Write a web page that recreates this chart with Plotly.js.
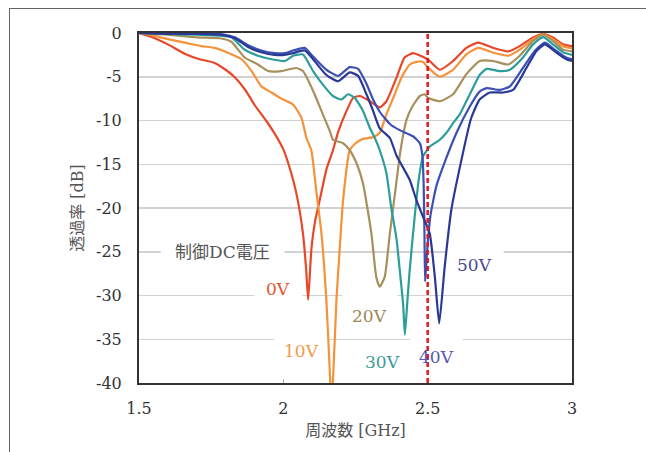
<!DOCTYPE html>
<html>
<head>
<meta charset="utf-8">
<script src="https://cdn.plot.ly/plotly-3.0.1.min.js"></script>
<style>
  html, body { margin: 0; padding: 0; background: #fff; }
  #wrap { position: relative; width: 646px; height: 452px; }
  #chart { width: 646px; height: 452px; }
  #frame { position: absolute; left: 9px; top: 8px; right: 0; bottom: 0;
           border-left: 1px solid #666; border-top: 1px solid #666; pointer-events: none; }
</style>
</head>
<body>
<div id="wrap">
  <div id="chart"></div>
  <div id="frame"></div>
</div>
<script>
// ---- data ----
const seriesNames = ['0V', '10V', '20V', '30V', '40V', '50V'];

const freq0V = [1.50,1.54,1.60,1.66,1.71,1.76,1.80,1.83,1.87,1.90,1.94,1.97,2.00,2.02,2.045,2.068,2.079,2.086,2.097,2.11,2.126,2.15,2.172,2.19,2.219,2.242,2.265,2.30,2.334,2.357,2.392,2.42,2.449,2.475,2.50,2.542,2.588,2.634,2.675,2.727,2.779,2.819,2.865,2.90,2.934,2.969,3.00];
const db0V   = [0,-0.4,-1.3,-2.4,-3.0,-3.4,-4.2,-5.0,-6.6,-8.2,-10.0,-11.5,-13.3,-15.2,-18.3,-22.9,-27.0,-30.5,-24.8,-21.5,-19.1,-15.5,-13.4,-11.3,-8.9,-7.4,-7.2,-7.8,-8.5,-7.8,-5.1,-2.8,-2.3,-2.6,-3.0,-4.2,-3.2,-1.7,-1.1,-1.7,-2.1,-1.5,-0.5,-0.1,-0.5,-1.3,-1.5];

const freq10V = [1.50,1.55,1.60,1.658,1.716,1.762,1.808,1.855,1.89,1.924,1.959,1.993,2.034,2.063,2.08,2.097,2.115,2.132,2.149,2.16,2.166,2.172,2.184,2.195,2.207,2.23,2.25,2.276,2.311,2.334,2.357,2.386,2.409,2.438,2.461,2.484,2.50,2.542,2.588,2.634,2.675,2.727,2.779,2.819,2.865,2.90,2.934,2.969,3.00];
const db10V   = [0,-0.3,-0.7,-1.1,-1.5,-1.7,-2.25,-3.0,-4.35,-6.1,-6.8,-7.5,-8.2,-9.7,-12.0,-13.4,-18.3,-22.9,-30.5,-38.0,-42.0,-39.7,-30.5,-24.8,-19.1,-13.4,-12.6,-12.1,-11.9,-11.4,-9.3,-7.0,-5.1,-3.6,-3.3,-3.3,-3.9,-5.0,-4.2,-2.45,-1.7,-2.25,-2.6,-1.9,-0.7,-0.15,-0.7,-1.5,-1.75];

const freq20V = [1.50,1.60,1.70,1.78,1.82,1.866,1.912,1.947,1.993,2.045,2.068,2.103,2.137,2.161,2.172,2.207,2.23,2.255,2.276,2.305,2.322,2.334,2.351,2.369,2.39,2.406,2.427,2.447,2.473,2.49,2.50,2.542,2.588,2.634,2.68,2.727,2.779,2.819,2.865,2.90,2.934,2.969,3.00];
const db20V   = [0,-0.2,-0.5,-0.6,-1.0,-2.8,-3.6,-4.35,-4.35,-4.0,-4.35,-6.6,-9.3,-11.2,-12.2,-12.6,-13.4,-15.0,-17.2,-22.9,-27.9,-29.0,-27.9,-22.9,-17.5,-13.4,-9.9,-8.4,-7.2,-7.0,-7.4,-7.8,-7.0,-4.7,-3.2,-3.2,-3.6,-2.6,-0.9,-0.2,-0.9,-1.9,-2.1];

const freq30V = [1.50,1.60,1.70,1.78,1.82,1.866,1.912,1.959,2.005,2.034,2.068,2.103,2.137,2.172,2.201,2.224,2.247,2.276,2.299,2.317,2.334,2.357,2.374,2.392,2.403,2.415,2.421,2.43,2.438,2.455,2.47,2.484,2.507,2.542,2.565,2.588,2.611,2.634,2.658,2.68,2.704,2.75,2.785,2.83,2.865,2.90,2.934,2.969,3.00];
const db30V   = [0,-0.1,-0.2,-0.3,-0.5,-1.9,-2.6,-3.0,-3.2,-2.6,-2.45,-4.35,-5.9,-7.2,-7.6,-7.0,-7.4,-8.9,-10.8,-12.0,-13.4,-16.0,-20.0,-23.5,-27.0,-31.0,-34.5,-30.5,-27.0,-21.0,-16.5,-14.1,-13.0,-12.2,-11.4,-10.3,-9.3,-7.8,-6.2,-4.8,-4.1,-4.35,-4.2,-2.8,-1.3,-0.46,-1.3,-2.2,-2.5];

const freq40V = [1.50,1.60,1.70,1.78,1.832,1.878,1.924,1.97,2.005,2.034,2.074,2.103,2.149,2.19,2.23,2.259,2.288,2.311,2.334,2.369,2.403,2.449,2.473,2.482,2.486,2.489,2.491,2.498,2.509,2.53,2.553,2.60,2.646,2.68,2.704,2.75,2.785,2.83,2.871,2.906,2.94,2.98,3.00];
const db40V   = [0,-0.1,-0.1,-0.1,-0.5,-1.4,-2.0,-2.3,-2.3,-2.0,-1.7,-2.7,-4.2,-4.9,-3.9,-4.1,-5.8,-7.6,-9.0,-10.4,-11.1,-11.8,-12.6,-14.1,-17.2,-23.0,-28.4,-25.0,-21.0,-17.5,-15.3,-11.4,-8.4,-6.7,-6.3,-6.5,-6.1,-4.0,-2.06,-1.1,-1.9,-2.8,-3.0];

const freq50V = [1.50,1.60,1.70,1.78,1.832,1.878,1.924,1.97,2.005,2.034,2.074,2.103,2.149,2.19,2.23,2.259,2.288,2.311,2.334,2.369,2.392,2.438,2.461,2.484,2.507,2.525,2.54,2.559,2.582,2.617,2.65,2.68,2.715,2.761,2.796,2.842,2.877,2.906,2.946,2.98,3.00];
const db50V   = [0,-0.1,-0.1,-0.2,-0.6,-1.6,-2.2,-2.5,-2.5,-2.3,-2.0,-3.0,-4.8,-5.5,-4.5,-4.9,-7.0,-8.9,-10.9,-12.0,-14.0,-16.8,-19.1,-21.0,-22.9,-27.9,-33.2,-26.7,-20.2,-14.5,-9.8,-7.6,-6.8,-6.8,-6.5,-4.0,-2.06,-1.3,-2.25,-3.0,-3.2];

const freqs = [freq0V, freq10V, freq20V, freq30V, freq40V, freq50V];
const dbs   = [db0V, db10V, db20V, db30V, db40V, db50V];

const xTickVals = [1.5, 2, 2.5, 3];
const xTickText = ['1.5', '2', '2.5', '3'];
const yTickVals = [0, -5, -10, -15, -20, -25, -30, -35, -40];
const yTickText = ['0', '-5', '-10', '-15', '-20', '-25', '-30', '-35', '-40'];
const markerFreq = 2.5;

// ---- styles ----
const lineColors  = ['#e8472a', '#f5923a', '#a8905c', '#2b9e9a', '#3b50b2', '#2a3896'];
const labelColors = ['#e4542f', '#f29a4a', '#9c8757', '#3a9c98', '#5858b4', '#4a4a94'];

const traces = seriesNames.map((name, i) => ({
  type: 'scatter', mode: 'lines', name: name,
  x: freqs[i], y: dbs[i],
  line: { color: lineColors[i], width: 2.2, shape: 'spline', smoothing: 0.5 },
  hoverinfo: 'skip'
}));

// label placement (data coordinates) and white boxes that only hide the grid
const labelPos = [
  { x: 1.982, y: -29.2, w: 48, h: 30 },
  { x: 2.063, y: -36.3, w: 55, h: 30 },
  { x: 2.300, y: -32.3, w: 55, h: 42 },
  { x: 2.345, y: -37.6, w: 0,  h: 0 },
  { x: 2.530, y: -37.0, w: 53, h: 40 },
  { x: 2.663, y: -26.5, w: 58, h: 32 }
];
const titleLabel = { text: '制御DC電圧', x: 1.79, y: -25, w: 124, h: 30 };

const annotations = seriesNames.map((name, i) => ({
  x: labelPos[i].x, y: labelPos[i].y, xref: 'x', yref: 'y',
  text: name, showarrow: false,
  font: { family: 'DejaVu Serif, Liberation Serif, serif', size: 17, color: labelColors[i] }
}));
annotations.push({
  x: titleLabel.x, y: titleLabel.y, xref: 'x', yref: 'y', text: titleLabel.text, showarrow: false,
  font: { family: 'DejaVu Serif, Noto Sans CJK JP, serif', size: 17, color: '#555' }
});

const shapes = [];
labelPos.concat([titleLabel]).forEach(p => {
  if (!p.w) return;
  shapes.push({
    type: 'rect', layer: 'between', xref: 'x', yref: 'y',
    xsizemode: 'pixel', ysizemode: 'pixel',
    xanchor: p.x, yanchor: p.y,
    x0: -p.w / 2, x1: p.w / 2, y0: -p.h / 2, y1: p.h / 2,
    fillcolor: '#ffffff', line: { width: 0 }
  });
});
shapes.push({
  type: 'line', layer: 'above', xref: 'x', yref: 'paper',
  x0: markerFreq, x1: markerFreq, y0: 0, y1: 1,
  line: { color: '#e3161d', width: 2.5, dash: '5px,3px' }
});

const tickFont = { family: 'DejaVu Serif, Liberation Serif, serif', size: 16, color: '#333' };
const titleFont = { family: 'DejaVu Serif, Noto Sans CJK JP, serif', size: 16, color: '#555' };

const layout = {
  width: 646, height: 452,
  margin: { l: 139, r: 74, t: 33, b: 69 },
  paper_bgcolor: '#ffffff', plot_bgcolor: '#ffffff',
  showlegend: false,
  xaxis: {
    range: [1.5, 3], tickvals: xTickVals, ticktext: xTickText,
    showgrid: false, zeroline: false,
    showline: true, mirror: true, linecolor: '#333', linewidth: 2,
    ticks: 'inside', ticklen: 4, tickcolor: '#aaa', tickwidth: 1,
    ticklabelstandoff: 10,
    tickfont: tickFont,
    title: { text: '周波数 [GHz]', font: titleFont, standoff: 8 },
    automargin: false
  },
  yaxis: {
    range: [-40, 0], tickvals: yTickVals, ticktext: yTickText,
    showgrid: true, gridcolor: '#d2d2d2', gridwidth: 1.5, zeroline: false,
    showline: true, mirror: true, linecolor: '#333', linewidth: 2,
    ticks: '', ticklabelstandoff: 12,
    tickfont: tickFont,
    title: { text: '透過率 [dB]', font: titleFont, standoff: 8 },
    automargin: false
  },
  annotations: annotations,
  shapes: shapes
};

Plotly.newPlot('chart', traces, layout, { displayModeBar: false, staticPlot: true });
</script>
</body>
</html>
